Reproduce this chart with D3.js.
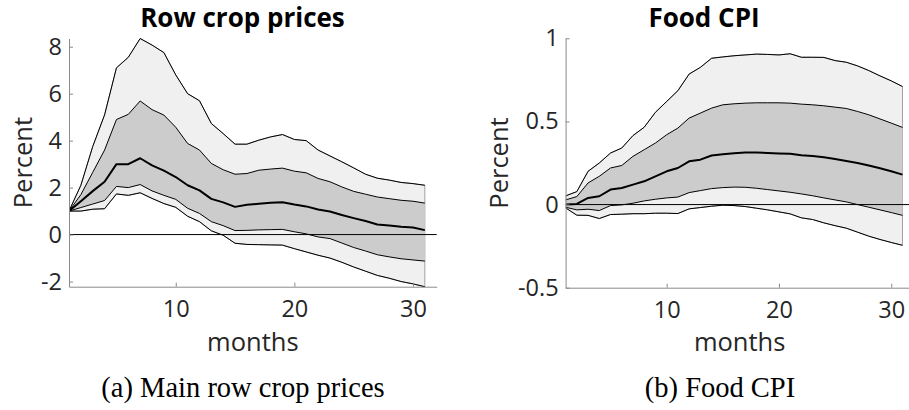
<!DOCTYPE html>
<html>
<head>
<meta charset="utf-8">
<script src="https://cdn.jsdelivr.net/npm/d3@7"></script>
<style>
  html, body { margin: 0; padding: 0; background: #ffffff; }
  svg { display: block; }
</style>
</head>
<body>
<svg id="chart" width="909" height="410"></svg>
<script>
// Impulse responses (percent) over a 31-month horizon, with 68% and 90% bands.
const months = [1, 2, 3, 4, 5, 6, 7, 8, 9, 10, 11, 12, 13, 14, 15, 16,
                17, 18, 19, 20, 21, 22, 23, 24, 25, 26, 27, 28, 29, 30, 31];
const monthTicks = [10, 20, 30];

// (a) Main row crop prices
const cropHi90 = [1.0, 2.1, 3.75, 5.1, 7.1, 7.55, 8.35, 8.07, 7.75, 6.8, 6.0, 5.7, 4.73, 4.3, 3.85, 3.85,
                  4.02, 4.16, 4.26, 4.05, 4.0, 3.6, 3.35, 3.1, 2.84, 2.57, 2.4, 2.32, 2.22, 2.17, 2.1];
const cropHi68 = [1.0, 1.7, 2.65, 3.6, 4.9, 5.12, 5.69, 5.32, 5.09, 4.57, 3.88, 3.6, 3.03, 2.76, 2.57, 2.6,
                  2.74, 2.79, 2.83, 2.7, 2.63, 2.39, 2.25, 2.03, 1.84, 1.72, 1.6, 1.53, 1.46, 1.42, 1.34];
const cropMed  = [1.0, 1.42, 1.85, 2.25, 3.0, 3.0, 3.25, 2.95, 2.72, 2.45, 2.1, 1.88, 1.52, 1.37, 1.18, 1.27,
                  1.31, 1.35, 1.38, 1.28, 1.2, 1.07, 0.98, 0.83, 0.7, 0.58, 0.43, 0.39, 0.33, 0.3, 0.19];
const cropLo68 = [1.0, 1.15, 1.3, 1.45, 2.05, 2.0, 2.13, 1.86, 1.67, 1.5, 1.12, 0.9, 0.55, 0.38, 0.17, 0.18,
                  0.2, 0.21, 0.22, 0.12, 0.03, -0.1, -0.17, -0.36, -0.55, -0.7, -0.86, -0.95, -1.03, -1.08, -1.13];
const cropLo90 = [1.0, 1.0, 1.08, 1.1, 1.73, 1.67, 1.78, 1.54, 1.32, 1.16, 0.78, 0.55, 0.16, -0.03, -0.37, -0.42,
                  -0.43, -0.44, -0.45, -0.6, -0.74, -0.88, -1.0, -1.18, -1.38, -1.56, -1.74, -1.86, -2.0, -2.1, -2.22];
const cropTicks = [-2, 0, 2, 4, 6, 8];

// (b) Food CPI
const cpiHi90 = [0.052, 0.078, 0.2, 0.25, 0.31, 0.34, 0.415, 0.465, 0.555, 0.62, 0.685, 0.785, 0.825, 0.88, 0.888, 0.895,
                 0.9, 0.905, 0.903, 0.9, 0.907, 0.886, 0.886, 0.885, 0.866, 0.856, 0.834, 0.806, 0.774, 0.744, 0.71];
const cpiHi68 = [0.028, 0.048, 0.13, 0.17, 0.22, 0.235, 0.29, 0.33, 0.37, 0.42, 0.46, 0.52, 0.55, 0.58, 0.6, 0.606,
                 0.61, 0.612, 0.612, 0.612, 0.61, 0.604, 0.6, 0.594, 0.586, 0.578, 0.56, 0.54, 0.515, 0.49, 0.464];
const cpiMed  = [0, 0.004, 0.04, 0.05, 0.09, 0.1, 0.12, 0.14, 0.17, 0.2, 0.22, 0.26, 0.27, 0.295, 0.303, 0.309,
                 0.313, 0.313, 0.31, 0.307, 0.305, 0.296, 0.292, 0.284, 0.274, 0.262, 0.25, 0.235, 0.218, 0.2, 0.18];
const cpiLo68 = [-0.016, -0.032, -0.028, -0.036, -0.006, -0.002, 0.008, 0.022, 0.032, 0.04, 0.045, 0.072, 0.084, 0.096, 0.102, 0.105,
                 0.104, 0.098, 0.09, 0.082, 0.074, 0.064, 0.053, 0.04, 0.028, 0.016, 0.0, -0.016, -0.032, -0.048, -0.065];
const cpiLo90 = [-0.02, -0.064, -0.065, -0.084, -0.06, -0.058, -0.055, -0.055, -0.052, -0.052, -0.054, -0.026, -0.018, -0.01, -0.004, -0.006,
                 -0.012, -0.022, -0.032, -0.044, -0.056, -0.08, -0.09, -0.11, -0.127, -0.142, -0.166, -0.19, -0.21, -0.228, -0.245];
const cpiTicks = [-0.5, 0, 0.5, 1];

const svg = d3.select("#chart");
const SANS = "'Open Sans', 'Noto Sans', sans-serif";
const SERIF = "'Liberation Serif', 'Times New Roman', serif";
const AXIS_GREY = "#8a8a8a";
const TEXT_DARK = "#262626";

function drawPanel(p) {
  const x = d3.scaleLinear().domain([1, 32]).range([p.left, p.right]);
  const y = d3.scaleLinear().domain(p.yDomain).range([p.bottom, p.top]);

  const g = svg.append("g");
  const clipId = "clip-" + p.id;
  g.append("clipPath").attr("id", clipId)
    .append("rect").attr("x", p.left).attr("y", p.top - 1)
    .attr("width", p.right - p.left + 1).attr("height", p.bottom - p.top + 2);

  const plot = g.append("g").attr("clip-path", `url(#${clipId})`);

  const rows = months.map((m, i) => ({
    m, hi90: p.hi90[i], hi68: p.hi68[i], med: p.med[i], lo68: p.lo68[i], lo90: p.lo90[i]
  }));

  const band = (lo, hi) => d3.area().x(d => x(d.m)).y0(d => y(d[lo])).y1(d => y(d[hi]));
  const line = key => d3.line().x(d => x(d.m)).y(d => y(d[key]));

  // 90% band (light) and 68% band (darker)
  plot.append("path").datum(rows).attr("d", band("lo90", "hi90"))
    .attr("fill", "#f0f0f0").attr("stroke", "#a0a0a0").attr("stroke-width", 1);
  plot.append("path").datum(rows).attr("d", band("lo68", "hi68"))
    .attr("fill", "#cccccc").attr("stroke", "none");

  ["hi90", "hi68", "lo68", "lo90"].forEach(k => {
    plot.append("path").datum(rows).attr("d", line(k))
      .attr("fill", "none").attr("stroke", "#000").attr("stroke-width", 1)
      .attr("stroke-linejoin", "round");
  });

  // zero reference line across the whole horizon
  plot.append("line")
    .attr("x1", x(1)).attr("x2", x(32)).attr("y1", y(0)).attr("y2", y(0))
    .attr("stroke", "#000").attr("stroke-width", 1);

  // point estimate
  plot.append("path").datum(rows).attr("d", line("med"))
    .attr("fill", "none").attr("stroke", "#000").attr("stroke-width", 2)
    .attr("stroke-linejoin", "round");

  // axes: ticks point inwards, only left and bottom spines
  const yAxis = d3.axisLeft(y).tickValues(p.yTicks).tickFormat(d => String(d))
    .tickSizeInner(-4).tickSizeOuter(0).tickPadding(7);
  const ya = g.append("g").attr("transform", `translate(${p.left},0)`).call(yAxis);
  ya.select(".domain").attr("stroke", AXIS_GREY);
  ya.selectAll(".tick line").attr("stroke", AXIS_GREY);
  ya.selectAll(".tick text").attr("fill", TEXT_DARK)
    .style("font-family", SANS).style("font-size", "23.5px");

  const xAxis = d3.axisBottom(x).tickValues(monthTicks).tickFormat(d => String(d))
    .tickSizeInner(-4).tickSizeOuter(0).tickPadding(14);
  const xa = g.append("g").attr("transform", `translate(0,${p.bottom})`).call(xAxis);
  xa.select(".domain").attr("stroke", AXIS_GREY);
  xa.selectAll(".tick line").attr("stroke", AXIS_GREY);
  xa.selectAll(".tick text").attr("fill", TEXT_DARK)
    .style("font-family", SANS).style("font-size", "23.5px");

  // labels
  g.append("text").text(p.title)
    .attr("x", p.titleX).attr("y", 27)
    .attr("text-anchor", "middle").attr("fill", "#000")
    .style("font-family", SANS).style("font-weight", "bold").style("font-size", "26px");

  g.append("text").text("Percent")
    .attr("transform", `translate(${p.ylabelX},${(p.top + p.bottom) / 2}) rotate(-90)`)
    .attr("text-anchor", "middle").attr("fill", TEXT_DARK)
    .style("font-family", SANS).style("font-size", "25.5px");

  g.append("text").text("months")
    .attr("x", (p.left + p.right) / 2).attr("y", 351)
    .attr("text-anchor", "middle").attr("fill", TEXT_DARK)
    .style("font-family", SANS).style("font-size", "25.5px");

  g.append("text").text(p.caption)
    .attr("x", p.captionX).attr("y", 397)
    .attr("text-anchor", "middle").attr("fill", "#000")
    .style("font-family", SERIF).style("font-size", "28.5px");
}

drawPanel({
  id: "a", left: 69, right: 436.7, top: 38.5, bottom: 286.7,
  yDomain: [d3.min(cropLo90), d3.max(cropHi90)], yTicks: cropTicks,
  hi90: cropHi90, hi68: cropHi68, med: cropMed, lo68: cropLo68, lo90: cropLo90,
  title: "Row crop prices", titleX: 242.5, ylabelX: 31.5,
  caption: "(a) Main row crop prices", captionX: 243
});

drawPanel({
  id: "b", left: 565.6, right: 913.7, top: 38.3, bottom: 287.7,
  yDomain: [-0.5, 1], yTicks: cpiTicks,
  hi90: cpiHi90, hi68: cpiHi68, med: cpiMed, lo68: cpiLo68, lo90: cpiLo90,
  title: "Food CPI", titleX: 704, ylabelX: 508,
  caption: "(b) Food CPI", captionX: 720
});
</script>
</body>
</html>
